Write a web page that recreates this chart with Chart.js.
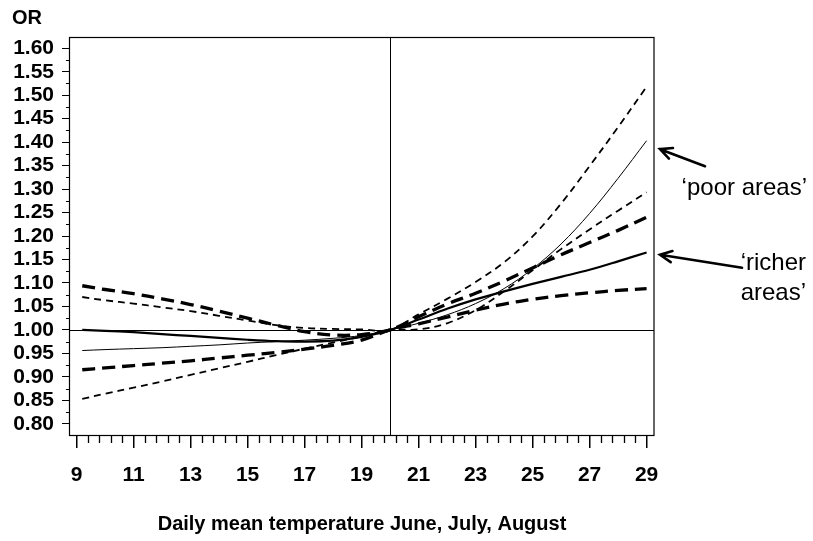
<!DOCTYPE html>
<html>
<head>
<meta charset="utf-8">
<script src="https://cdn.jsdelivr.net/npm/chart.js@4.4.1/dist/chart.umd.min.js"></script>
<style>
  html, body { margin: 0; padding: 0; background: #fff; }
  #wrap { width: 813px; height: 541px; }
</style>
</head>
<body>
<div id="wrap"><canvas id="chart" width="813" height="541"></canvas></div>
<script>
// daily mean temperature (June, July, August)
const temps = [9.2, 10, 11, 12, 13, 14, 15, 16, 17, 18, 19, 20, 21, 22, 23, 24, 25, 26, 27, 28, 29];

// 'poor areas' (thin lines)
const poorEst   = [0.956, 0.958, 0.960, 0.962, 0.965, 0.968, 0.972, 0.975, 0.978, 0.982, 0.988, 1.000, 1.014, 1.032, 1.056, 1.088, 1.130, 1.183, 1.248, 1.323, 1.403];
const poorUpper = [1.070, 1.063, 1.056, 1.048, 1.040, 1.030, 1.020, 1.010, 1.004, 1.002, 1.001, 1.000, 1.033, 1.066, 1.102, 1.144, 1.199, 1.269, 1.349, 1.432, 1.518];
const poorLower = [0.853, 0.864, 0.877, 0.890, 0.904, 0.918, 0.932, 0.946, 0.960, 0.973, 0.986, 1.000, 1.001, 1.014, 1.042, 1.082, 1.127, 1.172, 1.214, 1.254, 1.293];

// 'richer areas' (thick lines)
const richerEst   = [1.000, 0.998, 0.995, 0.991, 0.987, 0.983, 0.979, 0.976, 0.975, 0.977, 0.985, 1.000, 1.022, 1.045, 1.065, 1.082, 1.098, 1.113, 1.128, 1.146, 1.165];
const richerUpper = [1.094, 1.086, 1.077, 1.066, 1.054, 1.040, 1.025, 1.010, 0.996, 0.989, 0.990, 1.000, 1.028, 1.055, 1.078, 1.104, 1.132, 1.160, 1.186, 1.212, 1.240];
const richerLower = [0.915, 0.919, 0.924, 0.929, 0.934, 0.940, 0.946, 0.952, 0.959, 0.967, 0.978, 1.000, 1.013, 1.027, 1.042, 1.055, 1.065, 1.073, 1.079, 1.084, 1.088];

// axis ticks
const xLabels = [9, 11, 13, 15, 17, 19, 21, 23, 25, 27, 29];
const orTicks = [0.80, 0.85, 0.90, 0.95, 1.00, 1.05, 1.10, 1.15, 1.20, 1.25, 1.30, 1.35, 1.40, 1.45, 1.50, 1.55, 1.60];

const refTemp = 20;
const refOR = 1.0;
const poorArrowAt = 1.385;
const richerArrowAt = 1.16;

const FONT = "'Liberation Sans', Arial, Helvetica, sans-serif";

function pts(arr) {
  return temps.map((t, i) => ({ x: t, y: arr[i] }));
}

function line(label, arr, width, dash) {
  return {
    label: label,
    data: pts(arr),
    borderColor: '#000',
    borderWidth: width,
    borderDash: dash,
    borderCapStyle: 'butt',
    pointRadius: 0,
    fill: false,
    tension: 0.35
  };
}

function arrow(ctx, x1, y1, x2, y2) {
  // from (x1,y1) tail to (x2,y2) tip
  const a = Math.atan2(y2 - y1, x2 - x1);
  const len = 13;
  ctx.beginPath();
  ctx.moveTo(x1, y1);
  ctx.lineTo(x2, y2);
  ctx.moveTo(x2 - len * Math.cos(a - 0.45), y2 - len * Math.sin(a - 0.45));
  ctx.lineTo(x2, y2);
  ctx.lineTo(x2 - len * Math.cos(a + 0.45), y2 - len * Math.sin(a + 0.45));
  ctx.stroke();
}

const decorations = {
  id: 'decorations',
  beforeDatasetsDraw(chart) {
    const { ctx, chartArea: a, scales: { x, y } } = chart;
    ctx.save();
    ctx.strokeStyle = '#000';
    ctx.lineWidth = 1;
    const yr = Math.round(y.getPixelForValue(refOR)) + 0.5;
    const xr = Math.round(x.getPixelForValue(refTemp)) + 0.5;
    ctx.beginPath();
    ctx.moveTo(a.left, yr);
    ctx.lineTo(a.right, yr);
    ctx.moveTo(xr, a.top);
    ctx.lineTo(xr, a.bottom);
    ctx.stroke();
    ctx.restore();
  },
  afterDraw(chart) {
    const { ctx, chartArea: a, scales: { x, y } } = chart;
    ctx.save();
    ctx.strokeStyle = '#000';

    // frame
    ctx.lineWidth = 1.2;
    ctx.strokeRect(a.left - 0.5, a.top + 0.5, a.right - a.left + 0.5, a.bottom - a.top);

    // minor ticks on y
    ctx.lineWidth = 1;
    ctx.beginPath();
    for (let i = 0; i < orTicks.length - 1; i++) {
      const v = (orTicks[i] + orTicks[i + 1]) / 2;
      const py = Math.round(y.getPixelForValue(v)) + 0.5;
      ctx.moveTo(a.left - 4, py);
      ctx.lineTo(a.left, py);
    }
    ctx.stroke();

    // minor ticks on x, every 0.4 degree
    ctx.lineWidth = 1.3;
    ctx.beginPath();
    for (let k = 0; k <= 50; k++) {
      const v = xLabels[0] + k * 0.4;
      if (k % 5 === 0) continue;
      const px = Math.round(x.getPixelForValue(v)) + 0.5;
      ctx.moveTo(px, a.bottom + 1);
      ctx.lineTo(px, a.bottom + 8);
    }
    ctx.stroke();

    // OR label
    ctx.fillStyle = '#000';
    ctx.font = 'bold 20px ' + FONT;
    ctx.textAlign = 'left';
    ctx.textBaseline = 'middle';
    ctx.fillText('OR', 12, 18);

    // annotations
    ctx.font = '24px ' + FONT;
    ctx.textAlign = 'right';
    ctx.fillText('\u2018poor areas\u2019', 807, 188);
    ctx.fillText('\u2018richer', 806, 263);
    ctx.fillText('areas\u2019', 806, 293);

    ctx.lineWidth = 2.6;
    ctx.lineCap = 'round';
    const tipX = a.right + 6;
    const py1 = y.getPixelForValue(poorArrowAt);
    const py2 = y.getPixelForValue(richerArrowAt);
    arrow(ctx, tipX + 45, py1 + 17, tipX, py1);
    arrow(ctx, tipX + 82, py2 + 13, tipX, py2);
    ctx.restore();
  }
};

new Chart(document.getElementById('chart'), {
  type: 'line',
  data: {
    datasets: [
      line('poor areas', poorEst, 1, []),
      line('poor areas upper', poorUpper, 1.8, [7, 5]),
      line('poor areas lower', poorLower, 1.8, [7, 5]),
      line('richer areas', richerEst, 2.2, []),
      line('richer areas upper', richerUpper, 3.3, [13, 7]),
      line('richer areas lower', richerLower, 3.3, [13, 7])
    ]
  },
  options: {
    responsive: false,
    animation: false,
    devicePixelRatio: 1,
    layout: { padding: { top: 37, right: 159, left: 0, bottom: 0 } },
    plugins: { legend: { display: false }, tooltip: { enabled: false } },
    scales: {
      x: {
        type: 'linear',
        min: 8.77,
        max: 29.26,
        afterBuildTicks: s => { s.ticks = xLabels.map(v => ({ value: v })); },
        afterFit: s => { s.height = 106; },
        grid: { drawOnChartArea: false, tickLength: 13, color: '#000', lineWidth: 1.5 },
        border: { display: false },
        ticks: {
          color: '#000',
          autoSkip: false,
          maxRotation: 0,
          padding: 15,
          font: { family: FONT, size: 21, weight: 'bold' },
          callback: v => String(v)
        },
        title: {
          display: true,
          text: 'Daily mean temperature June, July, August',
          color: '#000',
          font: { family: FONT, size: 20, weight: 'bold' },
          padding: { top: 0, bottom: 5 }
        }
      },
      y: {
        min: 0.776,
        max: 1.624,
        afterBuildTicks: s => { s.ticks = orTicks.map(v => ({ value: v })); },
        afterFit: s => { s.width = 70; },
        grid: { drawOnChartArea: false, tickLength: 8, color: '#000', lineWidth: 1 },
        border: { display: false },
        ticks: {
          color: '#000',
          autoSkip: false,
          padding: 8,
          font: { family: FONT, size: 21, weight: 'bold' },
          callback: v => v.toFixed(2)
        }
      }
    }
  },
  plugins: [decorations]
});
</script>
</body>
</html>
